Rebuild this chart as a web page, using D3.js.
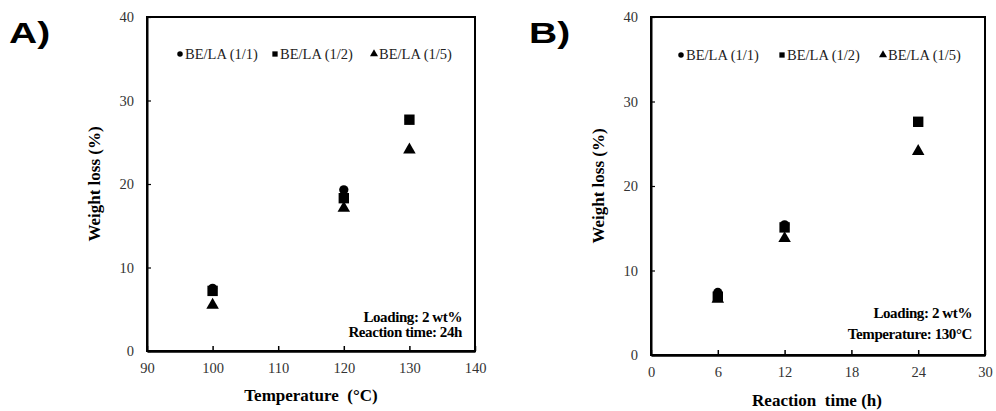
<!DOCTYPE html>
<html>
<head>
<meta charset="utf-8">
<script src="https://cdn.jsdelivr.net/npm/d3@7"></script>
<style>
  body { margin: 0; background: #fff; }
  svg { display: block; }
</style>
</head>
<body>
<div id="chart"></div>
<script>
const W = 996, H = 411

// series labels + marker shapes
const seriesNames = ["BE/LA (1/1)", "BE/LA (1/2)", "BE/LA (1/5)"]
const symbols = [d3.symbolCircle, d3.symbolSquare, d3.symbolTriangle]
const symbolSizes = [68, 108, 68]

// panel A: temperature
const tempX = [100, 120, 130]
const tempR11 = [7.5, 19.3, 27.7]
const tempR12 = [7.2, 18.3, 27.7]
const tempR15 = [5.5, 17.1, 24.1]
const tempTicks = [90, 100, 110, 120, 130, 140]

// panel B: reaction time
const timeX = [6, 12, 24]
const timeR11 = [7.4, 15.4, 27.6]
const timeR12 = [6.9, 15.1, 27.6]
const timeR15 = [6.6, 13.8, 24.1]
const timeTicks = [0, 6, 12, 18, 24, 30]

const yTicks = [0, 10, 20, 30, 40]

const SERIF = "Liberation Serif, Times New Roman, serif"

const svg = d3.select("#chart").append("svg")
    .attr("width", W)
    .attr("height", H)

function styleTicks(axisG) {
  axisG.attr("font-family", SERIF).attr("font-size", 14.5)
  axisG.selectAll(".tick text").attr("fill", "#333")
}

function drawPanel(p) {
  const x = d3.scaleLinear().domain(p.xDomain).range([p.left, p.right])
  const y = d3.scaleLinear().domain([0, 40]).range([p.bottom, p.top])

  const g = svg.append("g")

  // panel letter (wide bold face)
  g.append("text")
    .attr("transform", `translate(${p.letterX},43) scale(1.3,1)`)
    .attr("font-family", "Liberation Sans, Arial, sans-serif")
    .attr("font-weight", "bold")
    .attr("font-size", 30)
    .text(p.letter)

  // frame
  g.append("rect")
    .attr("x", p.left).attr("y", p.top)
    .attr("width", p.right - p.left).attr("height", p.bottom - p.top)
    .attr("fill", "none").attr("stroke", "#000").attr("stroke-width", 2)

  const xAxis = g.append("g")
    .attr("transform", `translate(0,${p.bottom})`)
    .call(d3.axisBottom(x).tickValues(p.xTicks).tickSizeInner(-5).tickSizeOuter(0).tickPadding(12))
  styleTicks(xAxis)
  xAxis.select(".domain").attr("stroke-width", 2.5)
  xAxis.selectAll(".tick line").attr("stroke-width", 1.5)

  const yAxis = g.append("g")
    .attr("transform", `translate(${p.left},0)`)
    .call(d3.axisLeft(y).tickValues(yTicks).tickSizeInner(-4).tickSizeOuter(0).tickPadding(13))
  styleTicks(yAxis)
  yAxis.select(".domain").attr("stroke-width", 2)
  yAxis.selectAll(".tick line").attr("stroke-width", 1.2)

  // axis titles
  g.append("text")
    .attr("x", p.xTitleX).attr("y", p.xTitleY)
    .attr("text-anchor", "middle")
    .attr("font-family", SERIF)
    .attr("font-weight", "bold").attr("font-size", 17)
    .attr("xml:space", "preserve")
    .text(p.xTitle)

  g.append("text")
    .attr("transform", `translate(${p.yTitleX},${(p.top + p.bottom) / 2}) rotate(-90)`)
    .attr("text-anchor", "middle")
    .attr("font-family", SERIF)
    .attr("font-weight", "bold").attr("font-size", 17)
    .text("Weight loss (%)")

  // legend
  p.legendX.forEach((lx, i) => {
    g.append("path")
      .attr("d", d3.symbol().type(symbols[i]).size(i === 0 ? 24 : 28)())
      .attr("transform", `translate(${lx},${p.legendY - 5})`)
    g.append("text")
      .attr("x", lx + 5).attr("y", p.legendY)
      .attr("font-family", SERIF)
      .attr("font-size", 14.5).attr("fill", "#222")
      .text(seriesNames[i])
  })

  // markers
  p.series.forEach((vals, i) => {
    g.append("g").selectAll("path")
      .data(vals.map((v, j) => [p.xs[j], v]))
      .join("path")
        .attr("d", d3.symbol().type(symbols[i]).size(symbolSizes[i]))
        .attr("transform", d => `translate(${x(d[0])},${y(d[1])})`)
        .attr("fill", "#000")
  })

  // conditions note
  p.notes.forEach((t, i) => {
    g.append("text")
      .attr("x", p.right - 13).attr("y", p.noteY + i * p.noteGap)
      .attr("text-anchor", "end")
      .attr("font-family", SERIF)
      .attr("font-weight", "bold").attr("font-size", 15)
      .attr("letter-spacing", -0.4)
      .text(t)
  })
}

drawPanel({
  letter: "A)", letterX: 9,
  left: 147, right: 475, top: 17, bottom: 351,
  xDomain: [90, 140], xTicks: tempTicks, xs: tempX,
  series: [tempR11, tempR12, tempR15],
  xTitle: "Temperature  (°C)", xTitleX: 311, xTitleY: 401,
  yTitleX: 100,
  legendX: [180, 275, 374], legendY: 59,
  notes: ["Loading: 2 wt%", "Reaction time: 24h"], noteY: 322, noteGap: 15
})

drawPanel({
  letter: "B)", letterX: 529,
  left: 651, right: 985, top: 17, bottom: 355,
  xDomain: [0, 30], xTicks: timeTicks, xs: timeX,
  series: [timeR11, timeR12, timeR15],
  xTitle: "Reaction  time (h)", xTitleX: 817, xTitleY: 406,
  yTitleX: 604,
  legendX: [681, 782, 883], legendY: 60,
  notes: ["Loading: 2 wt%", "Temperature: 130°C"], noteY: 318, noteGap: 21
})
</script>
</body>
</html>
